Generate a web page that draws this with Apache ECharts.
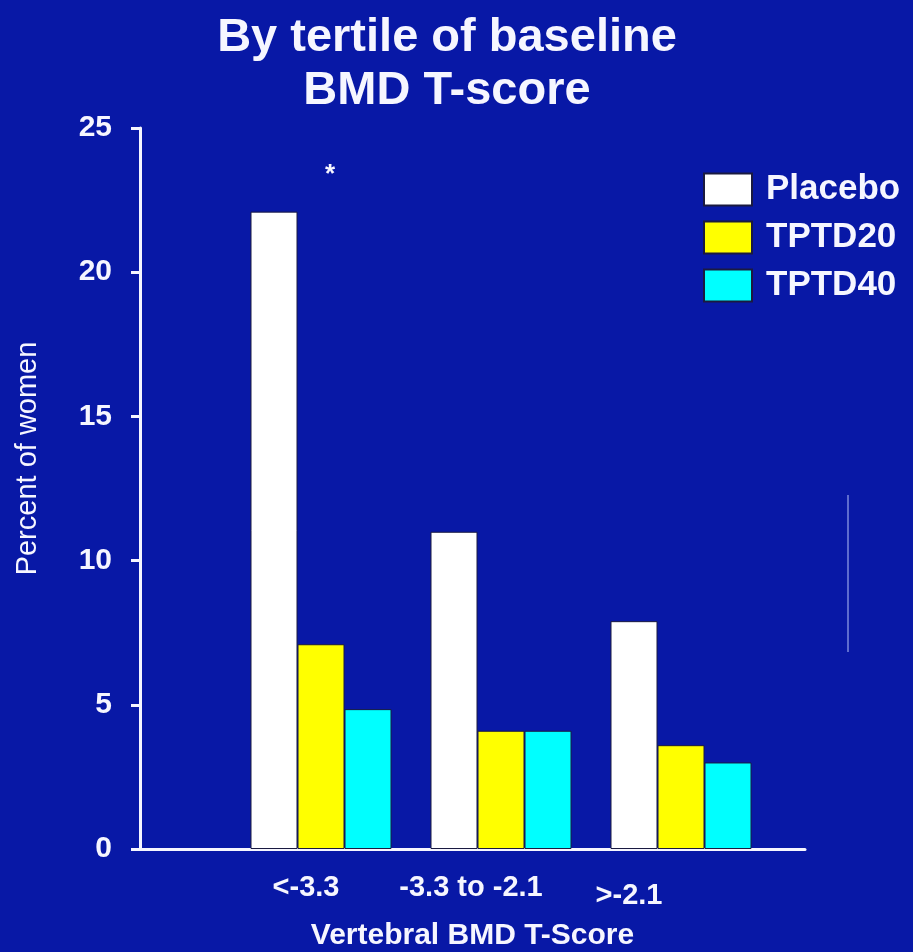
<!DOCTYPE html>
<html>
<head>
<meta charset="utf-8">
<script src="https://cdn.jsdelivr.net/npm/echarts@6/dist/echarts.min.js"></script>
<style>
  html, body { margin: 0; padding: 0; background: #0818a6; }
  #chart { width: 913px; height: 952px; }
</style>
</head>
<body>
<div id="chart"></div>
<script>
var categories = ['<-3.3', '-3.3 to -2.1', '>-2.1'];
var placebo = [22.1, 11.0, 7.9];
var tptd20 = [7.1, 4.1, 3.6];
var tptd40 = [4.85, 4.1, 3.0];
var yTicks = [0, 5, 10, 15, 20, 25];

var font = '"Liberation Sans", Arial, sans-serif';
var white = '#f6f6ff';

// the labels under the bars sit a bit left of the group centres
var labelShift = [[0, 15], [0, 30], [8, 52]];

var option_1 = {
    backgroundColor: '#0818a6',
    animation: false,
    textStyle: { fontFamily: font },
    title: {
        text: 'By tertile of baseline\nBMD T-score',
        left: 442,
        top: 7,
        textAlign: 'center',
        textStyle: {
            color: white,
            fontSize: 47,
            fontWeight: 'bold',
            lineHeight: 53,
            fontFamily: font
        }
    },
    legend: {
        orient: 'vertical',
        left: 703,
        top: 172,
        padding: 0,
        icon: 'rect',
        itemWidth: 48,
        itemHeight: 32,
        itemGap: 13,
        textStyle: {
            color: white,
            fontSize: 35,
            fontWeight: 'bold',
            fontFamily: font,
            padding: [0, 0, 0, 9]
        },
        data: ['Placebo', 'TPTD20', 'TPTD40']
    },
    // faint stray line at the right of the slide
    graphic: [{
        type: 'line',
        shape: { x1: 848, y1: 495, x2: 848, y2: 652 },
        style: { stroke: 'rgba(200,210,255,0.45)', lineWidth: 2 }
    }],
    grid: [
        { left: 140, right: 108, top: 128, bottom: 103, outerBoundsMode: 'none' },
        { left: 231, width: 540, top: 128, bottom: 103, outerBoundsMode: 'none' }
    ],
    xAxis: [
        {
            gridIndex: 0,
            type: 'value',
            min: 0,
            max: 1,
            name: 'Vertebral BMD T-Score',
            nameLocation: 'middle',
            nameGap: 72,
            nameTextStyle: { color: white, fontSize: 30, fontWeight: 'bold', fontFamily: font },
            axisLine: { show: true, lineStyle: { color: white, width: 3 } },
            axisTick: { show: false },
            axisLabel: { show: false },
            splitLine: { show: false }
        },
        {
            gridIndex: 1,
            type: 'category',
            data: categories.map(function (c, i) {
                return {
                    value: c,
                    textStyle: { padding: [labelShift[i][0], labelShift[i][1] * 2, 0, 0] }
                };
            }),
            axisLine: { show: false },
            axisTick: { show: false },
            axisLabel: {
                interval: 0,
                hideOverlap: false,
                color: white,
                fontSize: 29,
                fontWeight: 'bold',
                fontFamily: font,
                margin: 24
            }
        }
    ],
    yAxis: [
        {
            gridIndex: 0,
            type: 'value',
            min: yTicks[0],
            max: yTicks[yTicks.length - 1],
            interval: yTicks[1] - yTicks[0],
            name: 'Percent of women',
            nameLocation: 'middle',
            nameGap: 98,
            nameTextStyle: { color: white, fontSize: 29, fontFamily: font, padding: [0, 0, 0, 60] },
            axisLine: { show: true, lineStyle: { color: white, width: 3 } },
            axisTick: { show: true, length: 9, lineStyle: { color: white, width: 3 } },
            axisLabel: { color: white, fontSize: 30, fontWeight: 'bold', fontFamily: font, margin: 28 },
            splitLine: { show: false }
        },
        {
            gridIndex: 1,
            type: 'value',
            min: yTicks[0],
            max: yTicks[yTicks.length - 1],
            show: false
        }
    ],
    series: [
        {
            name: 'Placebo',
            type: 'bar',
            xAxisIndex: 1,
            yAxisIndex: 1,
            barWidth: 47,
            barGap: 0,
            itemStyle: { color: '#ffffff', borderColor: '#1a1a40', borderWidth: 1 },
            data: placebo
        },
        {
            name: 'TPTD20',
            type: 'bar',
            xAxisIndex: 1,
            yAxisIndex: 1,
            barWidth: 47,
            barGap: 0,
            itemStyle: { color: '#ffff00', borderColor: '#1a1a40', borderWidth: 1 },
            data: tptd20,
            markPoint: {
                symbol: 'circle',
                symbolSize: 0,
                label: {
                    show: true,
                    formatter: '*',
                    color: white,
                    fontSize: 26,
                    fontWeight: 'bold',
                    offset: [9, 4]
                },
                data: [{ coord: [categories[0], 23.5] }]
            }
        },
        {
            name: 'TPTD40',
            type: 'bar',
            xAxisIndex: 1,
            yAxisIndex: 1,
            barWidth: 47,
            barGap: 0,
            itemStyle: { color: '#00ffff', borderColor: '#1a1a40', borderWidth: 1 },
            data: tptd40
        }
    ]
};
var myChart_1 = echarts.init(document.getElementById('chart'));
myChart_1.setOption(option_1);
</script>
</body>
</html>
